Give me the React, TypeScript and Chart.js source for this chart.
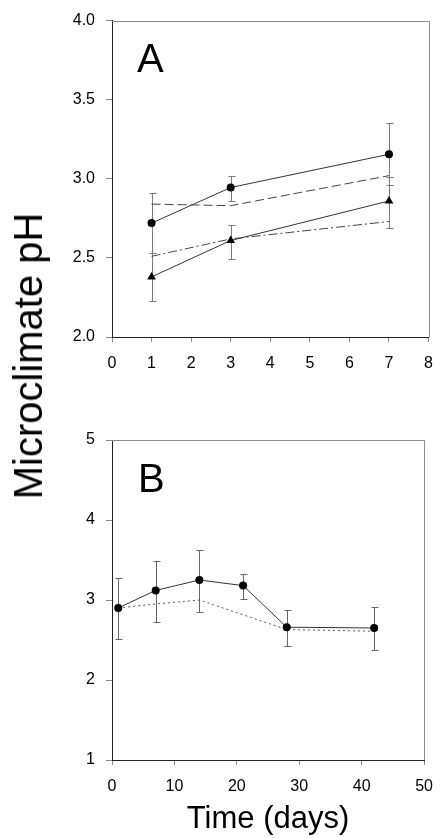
import React, { useEffect, useRef } from "react";
import { Chart, registerables } from "chart.js";

Chart.register(...registerables);

const FONT = '"Liberation Sans", Arial, Helvetica, sans-serif';

// ---------- Panel A data ----------
const daysA = [1, 3, 7];
const circleA = [2.72, 2.945, 3.155];
const circleAUp = [2.91, 3.02, 3.35];
const circleALow = [2.53, 2.86, 2.96];
const triangleA = [2.38, 2.61, 2.86];
const triangleAUp = [2.53, 2.71, 3.01];
const triangleALow = [2.23, 2.49, 2.69];
const dashedA = [2.84, 2.83, 3.02];
const dashDotA = [2.51, 2.62, 2.73];
const xTicksA = [0, 1, 2, 3, 4, 5, 6, 7, 8];
const yTicksA = [2.0, 2.5, 3.0, 3.5, 4.0];

// ---------- Panel B data ----------
const daysB = [1, 7, 14, 21, 28, 42];
const circleB = [2.9, 3.12, 3.25, 3.18, 2.66, 2.65];
const circleBUp = [3.28, 3.49, 3.63, 3.33, 2.88, 2.91];
const circleBLow = [2.51, 2.73, 2.85, 3.01, 2.42, 2.38];
const dottedDaysB = [1, 7, 14, 28, 42];
const dottedB = [2.9, 2.95, 3.0, 2.63, 2.61];
const xTicksB = [0, 10, 20, 30, 40, 50];
const yTicksB = [1, 2, 3, 4, 5];

const pts = (xs: number[], ys: number[]) => xs.map((x, i) => ({ x, y: ys[i] }));

const errorBarPlugin = {
  id: "errorBars",
  beforeDatasetsDraw(chart: any) {
    const ctx = chart.ctx;
    const xs = chart.scales.x;
    const ys = chart.scales.y;
    chart.data.datasets.forEach((ds: any) => {
      if (!ds.errUp) return;
      ctx.save();
      ctx.strokeStyle = ds.errColor || "#7a7a7a";
      ctx.lineWidth = 1;
      ds.data.forEach((p: any, i: number) => {
        const x = Math.round(xs.getPixelForValue(p.x)) + 0.5;
        const yU = Math.round(ys.getPixelForValue(ds.errUp[i])) + 0.5;
        const yL = Math.round(ys.getPixelForValue(ds.errLow[i])) + 0.5;
        ctx.beginPath();
        ctx.moveTo(x, yU);
        ctx.lineTo(x, yL);
        ctx.moveTo(x - 3, yU);
        ctx.lineTo(x + 4, yU);
        ctx.moveTo(x - 3, yL);
        ctx.lineTo(x + 4, yL);
        ctx.stroke();
      });
      ctx.restore();
    });
  },
};

const framePlugin = {
  id: "frame",
  afterDraw(chart: any) {
    const { left, right, top, bottom } = chart.chartArea;
    const ctx = chart.ctx;
    ctx.save();
    ctx.strokeStyle = "#8a8a8a";
    ctx.lineWidth = 1;
    ctx.beginPath();
    ctx.moveTo(left, Math.round(top) + 0.5);
    ctx.lineTo(Math.round(right) + 0.5, Math.round(top) + 0.5);
    ctx.lineTo(Math.round(right) + 0.5, bottom);
    ctx.stroke();
    ctx.restore();
  },
};

function makeScales(
  xMin: number,
  xMax: number,
  xTicks: number[],
  yMin: number,
  yMax: number,
  yTicks: number[],
  yDecimals: number,
  yWidth: number,
  xHeight: number,
  xTitle?: string
) {
  return {
    x: {
      type: "linear",
      min: xMin,
      max: xMax,
      afterBuildTicks: (s: any) => {
        s.ticks = xTicks.map((v) => ({ value: v }));
      },
      afterFit: (s: any) => {
        s.height = xHeight;
      },
      grid: { drawOnChartArea: false, drawTicks: true, tickLength: 5, color: "#8a8a8a", lineWidth: 1 },
      border: { display: true, color: "#222", width: 1 },
      ticks: {
        color: "#000",
        padding: 12,
        maxRotation: 0,
        autoSkip: false,
        font: { family: FONT, size: 16 },
        callback: (v: any) => String(v),
      },
      title: xTitle
        ? {
            display: true,
            text: xTitle,
            color: "#000",
            font: { family: FONT, size: 31 },
            padding: { top: 0, bottom: 0 },
          }
        : { display: false },
    },
    y: {
      type: "linear",
      min: yMin,
      max: yMax,
      afterBuildTicks: (s: any) => {
        s.ticks = yTicks.map((v) => ({ value: v }));
      },
      afterFit: (s: any) => {
        s.width = yWidth;
      },
      grid: { drawOnChartArea: false, drawTicks: true, tickLength: 6, color: "#8a8a8a", lineWidth: 1 },
      border: { display: true, color: "#222", width: 1 },
      ticks: {
        color: "#000",
        padding: 11,
        autoSkip: false,
        font: { family: FONT, size: 16 },
        callback: (v: any) => Number(v).toFixed(yDecimals),
      },
    },
  };
}

export default function App() {
  const refA = useRef<HTMLCanvasElement | null>(null);
  const refB = useRef<HTMLCanvasElement | null>(null);

  useEffect(() => {
    const common = {
      responsive: false,
      maintainAspectRatio: false,
      animation: false,
      devicePixelRatio: 1,
      plugins: { legend: { display: false }, tooltip: { enabled: false } },
      elements: { line: { tension: 0 } },
    };

    const chartA = new Chart(refA.current as HTMLCanvasElement, {
      type: "line",
      data: {
        datasets: [
          {
            data: pts(daysA, circleA),
            errUp: circleAUp,
            errLow: circleALow,
            borderColor: "#333",
            borderWidth: 1,
            pointStyle: "circle",
            pointRadius: 4,
            pointBackgroundColor: "#000",
            pointBorderColor: "#000",
            pointBorderWidth: 0,
          } as any,
          {
            data: pts(daysA, triangleA),
            errUp: triangleAUp,
            errLow: triangleALow,
            borderColor: "#333",
            borderWidth: 1,
            pointStyle: "triangle",
            pointRadius: 5,
            pointBackgroundColor: "#000",
            pointBorderColor: "#000",
            pointBorderWidth: 0,
          } as any,
          {
            data: pts(daysA, dashedA),
            borderColor: "#444",
            borderWidth: 1,
            borderDash: [9, 4],
            pointRadius: 0,
          },
          {
            data: pts(daysA, dashDotA),
            borderColor: "#444",
            borderWidth: 1,
            borderDash: [9, 3, 2, 3],
            pointRadius: 0,
          },
        ],
      },
      options: {
        ...common,
        layout: { padding: { left: 0, right: 9, top: 19, bottom: 0 } },
        scales: makeScales(0, 8, xTicksA, 2, 4, yTicksA, 1, 112, 43) as any,
      } as any,
      plugins: [errorBarPlugin, framePlugin],
    });

    const chartB = new Chart(refB.current as HTMLCanvasElement, {
      type: "line",
      data: {
        datasets: [
          {
            data: pts(daysB, circleB),
            errUp: circleBUp,
            errLow: circleBLow,
            errColor: "#666",
            borderColor: "#333",
            borderWidth: 1,
            pointStyle: "circle",
            pointRadius: 4,
            pointBackgroundColor: "#000",
            pointBorderColor: "#000",
            pointBorderWidth: 0,
          } as any,
          {
            data: pts(dottedDaysB, dottedB),
            borderColor: "#555",
            borderWidth: 1,
            borderDash: [2, 3],
            pointRadius: 0,
          },
        ],
      },
      options: {
        ...common,
        layout: { padding: { left: 0, right: 10, top: 60, bottom: 0 } },
        scales: makeScales(0, 50, xTicksB, 1, 5, yTicksB, 0, 112, 78, "Time (days)") as any,
      } as any,
      plugins: [errorBarPlugin, framePlugin],
    });

    return () => {
      chartA.destroy();
      chartB.destroy();
    };
  }, []);

  const textBase: React.CSSProperties = {
    position: "absolute",
    fontFamily: FONT,
    color: "#000",
    whiteSpace: "nowrap",
    margin: 0,
  };

  return (
    <div style={{ position: "absolute", left: 0, top: 0, width: 445, height: 838, background: "#fff" }}>
      <canvas
        ref={refA}
        width={445}
        height={380}
        style={{ position: "absolute", left: 0, top: 0, width: 445, height: 380 }}
      />
      <canvas
        ref={refB}
        width={445}
        height={458}
        style={{ position: "absolute", left: 0, top: 380, width: 445, height: 458 }}
      />
      <div
        style={{
          ...textBase,
          left: 28,
          top: 356,
          fontSize: 40,
          lineHeight: "40px",
          transform: "translate(-50%, -50%) rotate(-90deg)",
        }}
      >
        Microclimate pH
      </div>
      <div style={{ ...textBase, left: 137, top: 38, fontSize: 40, lineHeight: "40px" }}>A</div>
      <div style={{ ...textBase, left: 138, top: 458, fontSize: 40, lineHeight: "40px" }}>B</div>
    </div>
  );
}
